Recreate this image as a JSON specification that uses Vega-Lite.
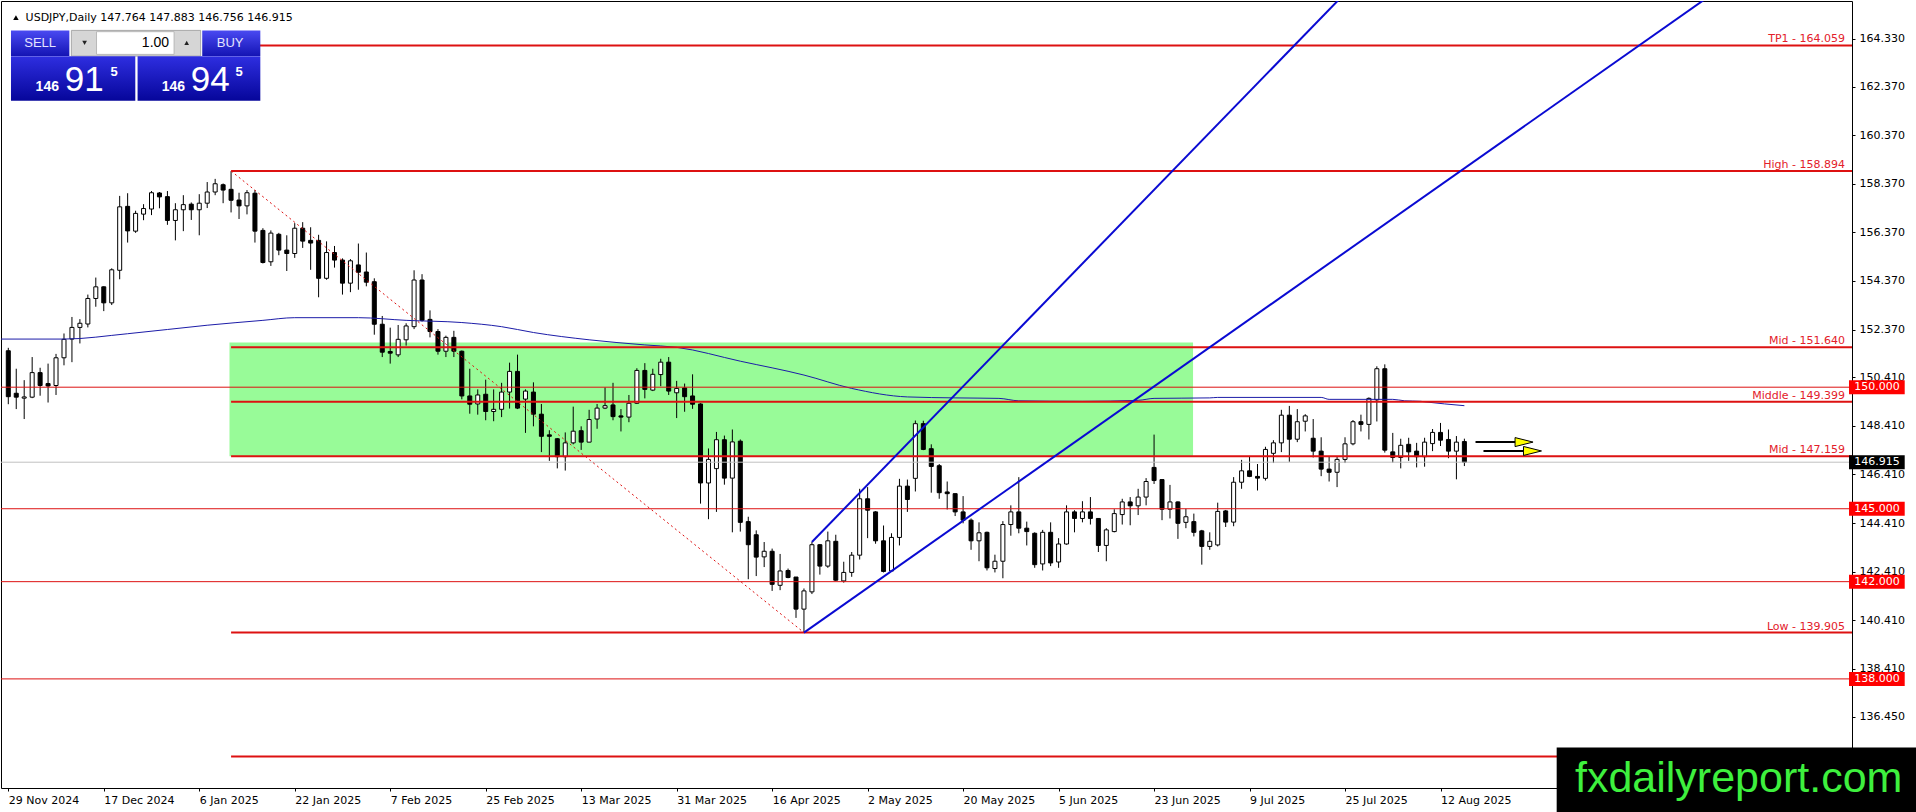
{
  "$schema": "https://vega.github.io/schema/vega-lite/v6.json",
  "width": 1851,
  "height": 787,
  "autosize": {"type": "none"},
  "padding": {"left": 1, "top": 1, "right": 64, "bottom": 24},
  "background": "white",
  "data": {"values": [{}]},
  "datasets": {
    "candles": [
      {"i":0,"o":151.50,"h":151.62,"l":149.30,"c":149.61},
      {"i":1,"o":149.75,"h":150.76,"l":149.10,"c":149.59},
      {"i":2,"o":149.55,"h":150.29,"l":148.69,"c":149.60},
      {"i":3,"o":149.59,"h":151.24,"l":149.55,"c":150.60},
      {"i":4,"o":150.60,"h":150.80,"l":149.65,"c":150.07},
      {"i":5,"o":150.15,"h":150.97,"l":149.37,"c":150.05},
      {"i":6,"o":150.07,"h":151.37,"l":149.68,"c":151.21},
      {"i":7,"o":151.21,"h":152.21,"l":150.90,"c":151.97},
      {"i":8,"o":151.98,"h":152.89,"l":151.03,"c":152.46},
      {"i":9,"o":152.46,"h":152.80,"l":151.80,"c":152.63},
      {"i":10,"o":152.60,"h":153.81,"l":152.46,"c":153.65},
      {"i":11,"o":153.65,"h":154.51,"l":153.31,"c":154.13},
      {"i":12,"o":154.13,"h":154.15,"l":153.13,"c":153.47},
      {"i":13,"o":153.47,"h":154.89,"l":153.38,"c":154.83},
      {"i":14,"o":154.81,"h":157.87,"l":154.44,"c":157.42},
      {"i":15,"o":157.44,"h":157.98,"l":155.95,"c":156.43},
      {"i":16,"o":156.42,"h":157.26,"l":156.35,"c":157.15},
      {"i":17,"o":157.12,"h":157.53,"l":156.87,"c":157.35},
      {"i":18,"o":157.33,"h":158.07,"l":157.08,"c":158.00},
      {"i":19,"o":157.99,"h":158.03,"l":157.36,"c":157.83},
      {"i":20,"o":157.84,"h":158.07,"l":156.68,"c":156.86},
      {"i":21,"o":156.86,"h":157.57,"l":156.04,"c":157.30},
      {"i":22,"o":157.30,"h":157.90,"l":156.42,"c":157.51},
      {"i":23,"o":157.53,"h":157.60,"l":156.88,"c":157.30},
      {"i":24,"o":157.30,"h":157.94,"l":156.25,"c":157.57},
      {"i":25,"o":157.57,"h":158.44,"l":157.37,"c":158.03},
      {"i":26,"o":158.03,"h":158.57,"l":157.90,"c":158.37},
      {"i":27,"o":158.33,"h":158.38,"l":157.57,"c":158.11},
      {"i":28,"o":158.14,"h":158.89,"l":157.19,"c":157.69},
      {"i":29,"o":157.70,"h":158.00,"l":156.92,"c":157.46},
      {"i":30,"o":157.46,"h":158.11,"l":157.11,"c":158.00},
      {"i":31,"o":157.98,"h":158.11,"l":155.95,"c":156.42},
      {"i":32,"o":156.45,"h":156.54,"l":155.09,"c":155.13},
      {"i":33,"o":155.16,"h":156.45,"l":154.99,"c":156.34},
      {"i":34,"o":156.29,"h":156.35,"l":155.43,"c":155.64},
      {"i":35,"o":155.64,"h":156.25,"l":154.78,"c":155.50},
      {"i":36,"o":155.50,"h":156.75,"l":155.32,"c":156.54},
      {"i":37,"o":156.54,"h":156.79,"l":155.73,"c":156.01},
      {"i":38,"o":156.04,"h":156.58,"l":154.83,"c":155.93},
      {"i":39,"o":156.04,"h":156.27,"l":153.70,"c":154.48},
      {"i":40,"o":154.48,"h":156.00,"l":154.42,"c":155.54},
      {"i":41,"o":155.54,"h":155.81,"l":154.92,"c":155.23},
      {"i":42,"o":155.23,"h":155.30,"l":153.81,"c":154.28},
      {"i":43,"o":154.28,"h":155.27,"l":153.91,"c":155.20},
      {"i":44,"o":155.03,"h":155.91,"l":154.01,"c":154.73},
      {"i":45,"o":154.74,"h":155.54,"l":154.15,"c":154.32},
      {"i":46,"o":154.34,"h":154.48,"l":152.16,"c":152.59},
      {"i":47,"o":152.59,"h":152.93,"l":151.24,"c":151.44},
      {"i":48,"o":151.47,"h":152.45,"l":150.97,"c":151.40},
      {"i":49,"o":151.33,"h":152.56,"l":151.24,"c":151.97},
      {"i":50,"o":151.95,"h":152.63,"l":151.71,"c":152.52},
      {"i":51,"o":152.49,"h":154.81,"l":152.39,"c":154.41},
      {"i":52,"o":154.41,"h":154.65,"l":152.70,"c":152.75},
      {"i":53,"o":152.79,"h":153.16,"l":152.05,"c":152.29},
      {"i":54,"o":152.29,"h":152.39,"l":151.34,"c":151.48},
      {"i":55,"o":151.48,"h":152.12,"l":151.24,"c":152.05},
      {"i":56,"o":152.05,"h":152.32,"l":151.24,"c":151.48},
      {"i":57,"o":151.48,"h":151.51,"l":149.50,"c":149.64},
      {"i":58,"o":149.64,"h":150.76,"l":148.91,"c":149.30},
      {"i":59,"o":149.31,"h":149.91,"l":148.87,"c":149.68},
      {"i":60,"o":149.71,"h":150.31,"l":148.64,"c":149.00},
      {"i":61,"o":149.00,"h":149.91,"l":148.60,"c":149.09},
      {"i":62,"o":149.09,"h":150.18,"l":148.77,"c":149.80},
      {"i":63,"o":149.80,"h":151.01,"l":149.12,"c":150.65},
      {"i":64,"o":150.65,"h":151.34,"l":149.10,"c":149.14},
      {"i":65,"o":149.51,"h":149.91,"l":148.12,"c":149.84},
      {"i":66,"o":149.80,"h":150.20,"l":148.39,"c":148.89},
      {"i":67,"o":148.89,"h":149.31,"l":147.33,"c":147.98},
      {"i":68,"o":148.04,"h":148.23,"l":146.97,"c":147.98},
      {"i":69,"o":147.88,"h":147.91,"l":146.66,"c":147.14},
      {"i":70,"o":147.14,"h":148.14,"l":146.57,"c":147.71},
      {"i":71,"o":147.71,"h":149.20,"l":147.65,"c":148.19},
      {"i":72,"o":148.21,"h":148.39,"l":147.42,"c":147.74},
      {"i":73,"o":147.74,"h":149.07,"l":147.74,"c":148.67},
      {"i":74,"o":148.69,"h":149.31,"l":148.29,"c":149.14},
      {"i":75,"o":149.14,"h":149.99,"l":149.10,"c":149.24},
      {"i":76,"o":149.27,"h":150.18,"l":148.64,"c":148.79},
      {"i":77,"o":148.82,"h":149.10,"l":148.18,"c":148.77},
      {"i":78,"o":148.77,"h":149.68,"l":148.56,"c":149.34},
      {"i":79,"o":149.34,"h":150.78,"l":149.31,"c":150.69},
      {"i":80,"o":150.69,"h":150.99,"l":149.54,"c":149.91},
      {"i":81,"o":149.88,"h":150.76,"l":149.84,"c":150.53},
      {"i":82,"o":150.52,"h":151.17,"l":150.04,"c":151.03},
      {"i":83,"o":151.03,"h":151.24,"l":149.68,"c":149.84},
      {"i":84,"o":149.77,"h":150.26,"l":148.73,"c":149.95},
      {"i":85,"o":149.97,"h":150.15,"l":148.99,"c":149.61},
      {"i":86,"o":149.64,"h":150.53,"l":149.11,"c":149.30},
      {"i":87,"o":149.31,"h":149.34,"l":145.21,"c":146.06},
      {"i":88,"o":146.06,"h":147.48,"l":144.57,"c":147.03},
      {"i":89,"o":146.65,"h":148.16,"l":144.87,"c":147.84},
      {"i":90,"o":147.84,"h":148.01,"l":145.99,"c":146.26},
      {"i":91,"o":146.26,"h":148.26,"l":144.03,"c":147.75},
      {"i":92,"o":147.78,"h":147.85,"l":144.06,"c":144.44},
      {"i":93,"o":144.47,"h":144.67,"l":142.10,"c":143.52},
      {"i":94,"o":143.93,"h":144.11,"l":142.23,"c":143.01},
      {"i":95,"o":143.02,"h":143.63,"l":142.60,"c":143.25},
      {"i":96,"o":143.25,"h":143.36,"l":141.62,"c":141.89},
      {"i":97,"o":141.85,"h":143.14,"l":141.65,"c":142.44},
      {"i":98,"o":142.46,"h":142.54,"l":142.14,"c":142.17},
      {"i":99,"o":142.19,"h":142.19,"l":140.51,"c":140.87},
      {"i":100,"o":140.87,"h":141.72,"l":139.905,"c":141.62},
      {"i":101,"o":141.58,"h":143.63,"l":141.49,"c":143.52},
      {"i":102,"o":143.52,"h":143.55,"l":142.29,"c":142.64},
      {"i":103,"o":142.64,"h":144.06,"l":142.57,"c":143.68},
      {"i":104,"o":143.66,"h":143.93,"l":142.03,"c":142.06},
      {"i":105,"o":142.03,"h":142.82,"l":141.96,"c":142.38},
      {"i":106,"o":142.38,"h":143.22,"l":142.20,"c":143.09},
      {"i":107,"o":143.09,"h":145.82,"l":142.91,"c":145.41},
      {"i":108,"o":145.41,"h":145.89,"l":143.79,"c":144.94},
      {"i":109,"o":144.87,"h":144.90,"l":143.56,"c":143.68},
      {"i":110,"o":143.68,"h":144.31,"l":142.38,"c":142.42},
      {"i":111,"o":142.44,"h":143.99,"l":142.42,"c":143.82},
      {"i":112,"o":143.82,"h":146.23,"l":143.49,"c":145.93},
      {"i":113,"o":145.93,"h":146.20,"l":144.87,"c":145.38},
      {"i":114,"o":146.25,"h":148.63,"l":145.71,"c":148.50},
      {"i":115,"o":148.50,"h":148.62,"l":147.41,"c":147.44},
      {"i":116,"o":147.47,"h":147.65,"l":145.66,"c":146.74},
      {"i":117,"o":146.77,"h":146.84,"l":145.41,"c":145.66},
      {"i":118,"o":145.69,"h":146.12,"l":144.97,"c":145.62},
      {"i":119,"o":145.62,"h":145.62,"l":144.70,"c":144.87},
      {"i":120,"o":144.87,"h":145.52,"l":144.40,"c":144.53},
      {"i":121,"o":144.53,"h":144.60,"l":143.31,"c":143.68},
      {"i":122,"o":143.68,"h":144.44,"l":142.84,"c":144.01},
      {"i":123,"o":144.03,"h":144.06,"l":142.46,"c":142.57},
      {"i":124,"o":142.54,"h":143.11,"l":142.38,"c":142.84},
      {"i":125,"o":142.84,"h":144.49,"l":142.14,"c":144.35},
      {"i":126,"o":144.35,"h":145.14,"l":143.89,"c":144.87},
      {"i":127,"o":144.87,"h":146.30,"l":143.99,"c":144.20},
      {"i":128,"o":144.20,"h":144.47,"l":143.49,"c":144.06},
      {"i":129,"o":143.99,"h":144.03,"l":142.57,"c":142.70},
      {"i":130,"o":142.73,"h":144.13,"l":142.46,"c":144.03},
      {"i":131,"o":144.03,"h":144.44,"l":142.64,"c":142.77},
      {"i":132,"o":142.81,"h":143.79,"l":142.57,"c":143.55},
      {"i":133,"o":143.55,"h":145.14,"l":143.52,"c":144.87},
      {"i":134,"o":144.87,"h":144.94,"l":144.03,"c":144.60},
      {"i":135,"o":144.60,"h":145.31,"l":144.44,"c":144.87},
      {"i":136,"o":144.87,"h":145.48,"l":144.35,"c":144.60},
      {"i":137,"o":144.60,"h":144.60,"l":143.22,"c":143.49},
      {"i":138,"o":143.49,"h":144.20,"l":142.84,"c":144.13},
      {"i":139,"o":144.06,"h":144.98,"l":144.03,"c":144.80},
      {"i":140,"o":144.76,"h":145.41,"l":144.35,"c":145.28},
      {"i":141,"o":145.28,"h":145.48,"l":144.32,"c":145.12},
      {"i":142,"o":145.12,"h":145.82,"l":144.74,"c":145.48},
      {"i":143,"o":145.48,"h":146.26,"l":145.14,"c":146.12},
      {"i":144,"o":146.70,"h":148.05,"l":146.02,"c":146.16},
      {"i":145,"o":146.20,"h":146.20,"l":144.53,"c":144.98},
      {"i":146,"o":144.98,"h":145.98,"l":144.60,"c":145.28},
      {"i":147,"o":145.28,"h":145.30,"l":143.76,"c":144.40},
      {"i":148,"o":144.44,"h":145.00,"l":144.20,"c":144.67},
      {"i":149,"o":144.47,"h":144.80,"l":143.86,"c":144.03},
      {"i":150,"o":144.09,"h":144.13,"l":142.70,"c":143.45},
      {"i":151,"o":143.45,"h":144.03,"l":143.31,"c":143.66},
      {"i":152,"o":143.51,"h":145.25,"l":143.45,"c":144.89},
      {"i":153,"o":144.91,"h":144.95,"l":144.25,"c":144.45},
      {"i":154,"o":144.45,"h":146.30,"l":144.28,"c":146.09},
      {"i":155,"o":146.09,"h":147.01,"l":145.82,"c":146.56},
      {"i":156,"o":146.56,"h":147.17,"l":146.30,"c":146.33},
      {"i":157,"o":146.33,"h":146.84,"l":145.75,"c":146.26},
      {"i":158,"o":146.25,"h":147.55,"l":146.16,"c":147.44},
      {"i":159,"o":147.28,"h":147.82,"l":146.88,"c":147.71},
      {"i":160,"o":147.71,"h":149.07,"l":147.33,"c":148.85},
      {"i":161,"o":148.85,"h":149.23,"l":146.93,"c":147.86},
      {"i":162,"o":147.86,"h":149.10,"l":147.74,"c":148.58},
      {"i":163,"o":148.60,"h":148.89,"l":148.18,"c":148.82},
      {"i":164,"o":147.90,"h":148.69,"l":147.11,"c":147.37},
      {"i":165,"o":147.37,"h":147.94,"l":146.34,"c":146.63},
      {"i":166,"o":146.63,"h":147.17,"l":146.12,"c":146.50},
      {"i":167,"o":146.50,"h":147.17,"l":145.89,"c":147.03},
      {"i":168,"o":147.03,"h":147.94,"l":146.88,"c":147.67},
      {"i":169,"o":147.67,"h":148.65,"l":147.61,"c":148.58},
      {"i":170,"o":148.58,"h":148.87,"l":148.18,"c":148.47},
      {"i":171,"o":148.47,"h":149.58,"l":147.85,"c":149.54},
      {"i":172,"o":149.48,"h":150.86,"l":148.59,"c":150.76},
      {"i":173,"o":150.76,"h":150.94,"l":147.31,"c":147.41},
      {"i":174,"o":147.34,"h":148.12,"l":146.90,"c":147.11},
      {"i":175,"o":147.11,"h":147.88,"l":146.66,"c":147.61},
      {"i":176,"o":147.65,"h":147.92,"l":146.97,"c":147.34},
      {"i":177,"o":147.37,"h":147.71,"l":146.70,"c":147.14},
      {"i":178,"o":147.14,"h":147.92,"l":146.73,"c":147.74},
      {"i":179,"o":147.68,"h":148.28,"l":147.37,"c":148.14},
      {"i":180,"o":148.14,"h":148.53,"l":147.58,"c":147.82},
      {"i":181,"o":147.85,"h":148.26,"l":147.08,"c":147.37},
      {"i":182,"o":147.37,"h":147.99,"l":146.21,"c":147.74},
      {"i":183,"o":147.764,"h":147.883,"l":146.756,"c":146.915}
    ],
    "ma": [
      {"i":-1,"v":151.98},{"i":7,"v":151.98},{"i":15,"v":152.2},{"i":25,"v":152.55},
      {"i":32,"v":152.75},{"i":36,"v":152.86},{"i":44,"v":152.86},{"i":50,"v":152.75},
      {"i":57,"v":152.66},{"i":62,"v":152.49},{"i":66,"v":152.25},{"i":73,"v":151.95},
      {"i":80,"v":151.74},{"i":84,"v":151.64},{"i":92,"v":151.07},{"i":100,"v":150.5},
      {"i":106,"v":149.95},{"i":113,"v":149.6},{"i":119,"v":149.56},{"i":124.5,"v":149.54},
      {"i":127,"v":149.44},{"i":135,"v":149.42},{"i":142,"v":149.46},{"i":144,"v":149.54},
      {"i":151,"v":149.56},{"i":152,"v":149.58},{"i":165,"v":149.58},{"i":166,"v":149.5},
      {"i":174,"v":149.5},{"i":175.5,"v":149.44},{"i":177.5,"v":149.42},{"i":178,"v":149.4},
      {"i":183,"v":149.24}
    ],
    "levels": [
      {"p":164.059,"name":"TP1 - 164.059","from":28},
      {"p":158.894,"name":"High - 158.894","from":28},
      {"p":151.64,"name":"Mid - 151.640","from":28},
      {"p":149.399,"name":"Middle - 149.399","from":28},
      {"p":147.159,"name":"Mid - 147.159","from":28},
      {"p":139.905,"name":"Low - 139.905","from":28},
      {"p":134.81,"name":"","from":28}
    ],
    "tags": [
      {"p":150.0,"kind":"level"},
      {"p":146.915,"kind":"bid"},
      {"p":145.0,"kind":"level"},
      {"p":142.0,"kind":"level"},
      {"p":138.0,"kind":"level"}
    ],
    "trend": [
      {"i1":101,"p1":143.63,"i2":180,"p2":170.25},
      {"i1":100,"p1":139.905,"i2":225,"p2":168.67}
    ],
    "fib": [
      {"i1":28,"p1":158.894,"i2":100,"p2":139.905}
    ],
    "arrows": [
      {"i1":184.4,"i2":189.6,"tip":190.5,"p":147.742},
      {"i1":185.4,"i2":190.6,"tip":191.56,"p":147.377}
    ]
  },
  "config": {
    "view": {"stroke": "black", "strokeWidth": 1},
    "axis": {
      "labelFont": "DejaVu Sans",
      "labelFontSize": 11,
      "labelColor": "black",
      "tickColor": "black",
      "tickSize": 3,
      "domain": false,
      "grid": false,
      "title": null
    }
  },
  "layer": [
    {
      "mark": {"type": "rect", "color": "#98fb98"},
      "encoding": {
        "x": {"datum": 27.8, "type": "quantitative", "scale": {"domain": [-0.2875, 231.0875], "nice": false, "zero": false}},
        "x2": {"datum": 148.9},
        "y": {"datum": 147.16, "type": "quantitative", "scale": {"domain": [133.717, 165.6826], "nice": false, "zero": false}},
        "y2": {"datum": 151.84}
      }
    },
    {
      "data": {"name": "candles"},
      "mark": {"type": "rule", "color": "black", "strokeWidth": 1, "clip": true},
      "encoding": {
        "x": {
          "field": "i", "type": "quantitative",
          "axis": {
            "orient": "bottom",
            "values": [0, 12, 24, 36, 48, 60, 72, 84, 96, 108, 120, 132, 144, 156, 168, 180],
            "labelExpr": "['29 Nov 2024','17 Dec 2024','6 Jan 2025','22 Jan 2025','7 Feb 2025','25 Feb 2025','13 Mar 2025','31 Mar 2025','16 Apr 2025','2 May 2025','20 May 2025','5 Jun 2025','23 Jun 2025','9 Jul 2025','25 Jul 2025','12 Aug 2025'][round(datum.value / 12)]",
            "labelAlign": "left",
            "labelBaseline": "top",
            "labelPadding": 3,
            "labelFlush": false,
            "labelOverlap": false,
            "title": null
          }
        },
        "y": {
          "field": "l", "type": "quantitative",
          "axis": {
            "orient": "right",
            "values": [164.33, 162.37, 160.37, 158.37, 156.37, 154.37, 152.37, 150.41, 148.41, 146.41, 144.41, 142.41, 140.41, 138.41, 136.45],
            "format": ".3f",
            "labelPadding": 4,
            "labelFlush": false,
            "labelOverlap": false,
            "title": null
          }
        },
        "y2": {"field": "h"}
      }
    },
    {
      "data": {"name": "candles"},
      "mark": {"type": "bar", "width": 4, "stroke": "black", "strokeWidth": 1, "clip": true},
      "encoding": {
        "x": {"field": "i", "type": "quantitative"},
        "y": {"field": "o", "type": "quantitative"},
        "y2": {"field": "c"},
        "fill": {"condition": {"test": "datum.c >= datum.o", "value": "white"}, "value": "black"}
      }
    },
    {
      "data": {"name": "ma"},
      "mark": {"type": "line", "color": "#1c1ca8", "strokeWidth": 1, "clip": true, "interpolate": "monotone"},
      "encoding": {
        "x": {"field": "i", "type": "quantitative"},
        "y": {"field": "v", "type": "quantitative"}
      }
    },
    {
      "data": {"name": "tags"},
      "transform": [{"filter": "datum.kind == 'bid'"}],
      "mark": {"type": "rule", "color": "#c0c0c0", "strokeWidth": 1},
      "encoding": {"y": {"field": "p", "type": "quantitative"}}
    },
    {
      "data": {"name": "tags"},
      "transform": [{"filter": "datum.kind == 'level'"}],
      "mark": {"type": "rule", "color": "#dd1111", "strokeWidth": 1},
      "encoding": {"y": {"field": "p", "type": "quantitative"}}
    },
    {
      "data": {"name": "levels"},
      "mark": {"type": "rule", "color": "#dd1111", "strokeWidth": 2, "clip": true},
      "encoding": {
        "x": {"field": "from", "type": "quantitative"},
        "x2": {"datum": 232},
        "y": {"field": "p", "type": "quantitative"}
      }
    },
    {
      "data": {"name": "levels"},
      "mark": {"type": "text", "align": "right", "baseline": "alphabetic", "dy": -3, "font": "DejaVu Sans", "fontSize": 11, "color": "#e3202a"},
      "encoding": {
        "x": {"datum": 230.84, "type": "quantitative"},
        "y": {"field": "p", "type": "quantitative"},
        "text": {"field": "name"}
      }
    },
    {
      "data": {"name": "fib"},
      "mark": {"type": "rule", "color": "#dd1111", "strokeWidth": 1, "strokeDash": [2, 3]},
      "encoding": {
        "x": {"field": "i1", "type": "quantitative"},
        "x2": {"field": "i2"},
        "y": {"field": "p1", "type": "quantitative"},
        "y2": {"field": "p2"}
      }
    },
    {
      "data": {"name": "trend"},
      "mark": {"type": "rule", "color": "#0a0ad2", "strokeWidth": 2, "clip": true},
      "encoding": {
        "x": {"field": "i1", "type": "quantitative"},
        "x2": {"field": "i2"},
        "y": {"field": "p1", "type": "quantitative"},
        "y2": {"field": "p2"}
      }
    },
    {
      "data": {"name": "arrows"},
      "mark": {"type": "rule", "color": "black", "strokeWidth": 2},
      "encoding": {
        "x": {"field": "i1", "type": "quantitative"},
        "x2": {"field": "i2"},
        "y": {"field": "p", "type": "quantitative"}
      }
    },
    {
      "data": {"name": "arrows"},
      "mark": {"type": "point", "shape": "M-1,-0.5L1,0L-1,0.5Z", "size": 324, "filled": true, "fill": "#ffff00", "stroke": "black", "strokeWidth": 1, "opacity": 1},
      "encoding": {
        "x": {"field": "tip", "type": "quantitative"},
        "y": {"field": "p", "type": "quantitative"}
      }
    },
    {
      "mark": {"type": "point", "shape": "triangle-up", "size": 30, "filled": true, "color": "black", "opacity": 1},
      "encoding": {
        "x": {"datum": 0.96, "type": "quantitative"},
        "y": {"datum": 165.2, "type": "quantitative"}
      }
    },
    {
      "mark": {"type": "text", "align": "left", "baseline": "middle", "font": "DejaVu Sans", "fontSize": 11, "color": "black", "text": "USDJPY,Daily  147.764 147.883 146.756 146.915"},
      "encoding": {
        "x": {"datum": 2.175, "type": "quantitative"},
        "y": {"datum": 165.183, "type": "quantitative"}
      }
    },
    {
      "mark": {"type": "rect", "color": {"gradient": "linear", "x1": 0, "y1": 0, "x2": 0, "y2": 1, "stops": [{"offset": 0, "color": "#4a4af2"}, {"offset": 1, "color": "#1414b4"}]}},
      "encoding": {
        "x": {"datum": 0.3375, "type": "quantitative"},
        "x2": {"datum": 7.675},
        "y": {"datum": 164.679, "type": "quantitative"},
        "y2": {"datum": 163.623}
      }
    },
    {
      "mark": {"type": "rect", "color": {"gradient": "linear", "x1": 0, "y1": 0, "x2": 0, "y2": 1, "stops": [{"offset": 0, "color": "#4a4af2"}, {"offset": 1, "color": "#1414b4"}]}},
      "encoding": {
        "x": {"datum": 24.375, "type": "quantitative"},
        "x2": {"datum": 31.675},
        "y": {"datum": 164.679, "type": "quantitative"},
        "y2": {"datum": 163.623}
      }
    },
    {
      "mark": {"type": "rect", "fill": "#d6d6d6", "stroke": "#a8a8a8", "strokeWidth": 1},
      "encoding": {
        "x": {"datum": 7.925, "type": "quantitative"},
        "x2": {"datum": 24.175},
        "y": {"datum": 164.679, "type": "quantitative"},
        "y2": {"datum": 163.623}
      }
    },
    {
      "mark": {"type": "rect", "fill": "white", "stroke": "#b8b8b8", "strokeWidth": 1},
      "encoding": {
        "x": {"datum": 11.09, "type": "quantitative"},
        "x2": {"datum": 20.84},
        "y": {"datum": 164.626, "type": "quantitative"},
        "y2": {"datum": 163.692}
      }
    },
    {
      "mark": {"type": "rect", "color": {"gradient": "linear", "x1": 0, "y1": 0, "x2": 0, "y2": 1, "stops": [{"offset": 0, "color": "#2e2ee0"}, {"offset": 1, "color": "#06069a"}]}},
      "encoding": {
        "x": {"datum": 0.3375, "type": "quantitative"},
        "x2": {"datum": 15.9625},
        "y": {"datum": 163.611, "type": "quantitative"},
        "y2": {"datum": 161.783}
      }
    },
    {
      "mark": {"type": "rect", "color": {"gradient": "linear", "x1": 0, "y1": 0, "x2": 0, "y2": 1, "stops": [{"offset": 0, "color": "#2e2ee0"}, {"offset": 1, "color": "#06069a"}]}},
      "encoding": {
        "x": {"datum": 16.25, "type": "quantitative"},
        "x2": {"datum": 31.675},
        "y": {"datum": 163.611, "type": "quantitative"},
        "y2": {"datum": 161.783}
      }
    },
    {
      "mark": {"type": "text", "align": "center", "baseline": "middle", "font": "Liberation Sans", "fontSize": 13, "color": "#e4e4ff", "text": "SELL"},
      "encoding": {"x": {"datum": 4.0, "type": "quantitative"}, "y": {"datum": 164.166, "type": "quantitative"}}
    },
    {
      "mark": {"type": "text", "align": "center", "baseline": "middle", "font": "Liberation Sans", "fontSize": 13, "color": "#e4e4ff", "text": "BUY"},
      "encoding": {"x": {"datum": 27.88, "type": "quantitative"}, "y": {"datum": 164.166, "type": "quantitative"}}
    },
    {
      "mark": {"type": "text", "align": "right", "baseline": "middle", "font": "Liberation Sans", "fontSize": 14, "color": "black", "text": "1.00"},
      "encoding": {"x": {"datum": 20.21, "type": "quantitative"}, "y": {"datum": 164.18, "type": "quantitative"}}
    },
    {
      "mark": {"type": "point", "shape": "triangle-down", "size": 22, "filled": true, "color": "#222222", "opacity": 1},
      "encoding": {"x": {"datum": 9.59, "type": "quantitative"}, "y": {"datum": 164.166, "type": "quantitative"}}
    },
    {
      "mark": {"type": "point", "shape": "triangle-up", "size": 22, "filled": true, "color": "#222222", "opacity": 1},
      "encoding": {"x": {"datum": 22.42, "type": "quantitative"}, "y": {"datum": 164.166, "type": "quantitative"}}
    },
    {
      "mark": {"type": "text", "align": "center", "baseline": "alphabetic", "font": "Liberation Sans", "fontSize": 14, "fontWeight": "bold", "color": "white", "text": "146"},
      "encoding": {"x": {"datum": 4.9, "type": "quantitative"}, "y": {"datum": 162.177, "type": "quantitative"}}
    },
    {
      "mark": {"type": "text", "align": "left", "baseline": "alphabetic", "font": "Liberation Sans", "fontSize": 35, "color": "white", "text": "91"},
      "encoding": {"x": {"datum": 7.09, "type": "quantitative"}, "y": {"datum": 162.177, "type": "quantitative"}}
    },
    {
      "mark": {"type": "text", "align": "left", "baseline": "alphabetic", "font": "Liberation Sans", "fontSize": 13, "fontWeight": "bold", "color": "white", "text": "5"},
      "encoding": {"x": {"datum": 12.84, "type": "quantitative"}, "y": {"datum": 162.811, "type": "quantitative"}}
    },
    {
      "mark": {"type": "text", "align": "center", "baseline": "alphabetic", "font": "Liberation Sans", "fontSize": 14, "fontWeight": "bold", "color": "white", "text": "146"},
      "encoding": {"x": {"datum": 20.74, "type": "quantitative"}, "y": {"datum": 162.177, "type": "quantitative"}}
    },
    {
      "mark": {"type": "text", "align": "left", "baseline": "alphabetic", "font": "Liberation Sans", "fontSize": 35, "color": "white", "text": "94"},
      "encoding": {"x": {"datum": 22.93, "type": "quantitative"}, "y": {"datum": 162.177, "type": "quantitative"}}
    },
    {
      "mark": {"type": "text", "align": "left", "baseline": "alphabetic", "font": "Liberation Sans", "fontSize": 13, "fontWeight": "bold", "color": "white", "text": "5"},
      "encoding": {"x": {"datum": 28.55, "type": "quantitative"}, "y": {"datum": 162.811, "type": "quantitative"}}
    },
    {
      "data": {"name": "tags"},
      "mark": {"type": "bar", "orient": "horizontal", "height": 14},
      "encoding": {
        "x": {"datum": 231.34, "type": "quantitative"},
        "x2": {"datum": 238.34},
        "y": {"field": "p", "type": "quantitative"},
        "color": {"field": "kind", "type": "nominal", "scale": {"domain": ["level", "bid"], "range": ["#ff0000", "#000000"]}, "legend": null}
      }
    },
    {
      "data": {"name": "tags"},
      "mark": {"type": "text", "align": "left", "baseline": "middle", "font": "DejaVu Sans", "fontSize": 11, "color": "white"},
      "encoding": {
        "x": {"datum": 232.0, "type": "quantitative"},
        "y": {"field": "p", "type": "quantitative"},
        "text": {"field": "p", "type": "quantitative", "format": ".3f"}
      }
    },
    {
      "mark": {"type": "rect", "color": "black"},
      "encoding": {
        "x": {"datum": 194.6, "type": "quantitative"},
        "x2": {"datum": 245},
        "y": {"datum": 135.18, "type": "quantitative"},
        "y2": {"datum": 131.5}
      }
    },
    {
      "mark": {"type": "text", "align": "left", "baseline": "alphabetic", "font": "Liberation Sans", "fontSize": 43, "color": "#3ef03e", "text": "fxdailyreport.com"},
      "encoding": {"x": {"datum": 196.9, "type": "quantitative"}, "y": {"datum": 133.35, "type": "quantitative"}}
    }
  ]
}
